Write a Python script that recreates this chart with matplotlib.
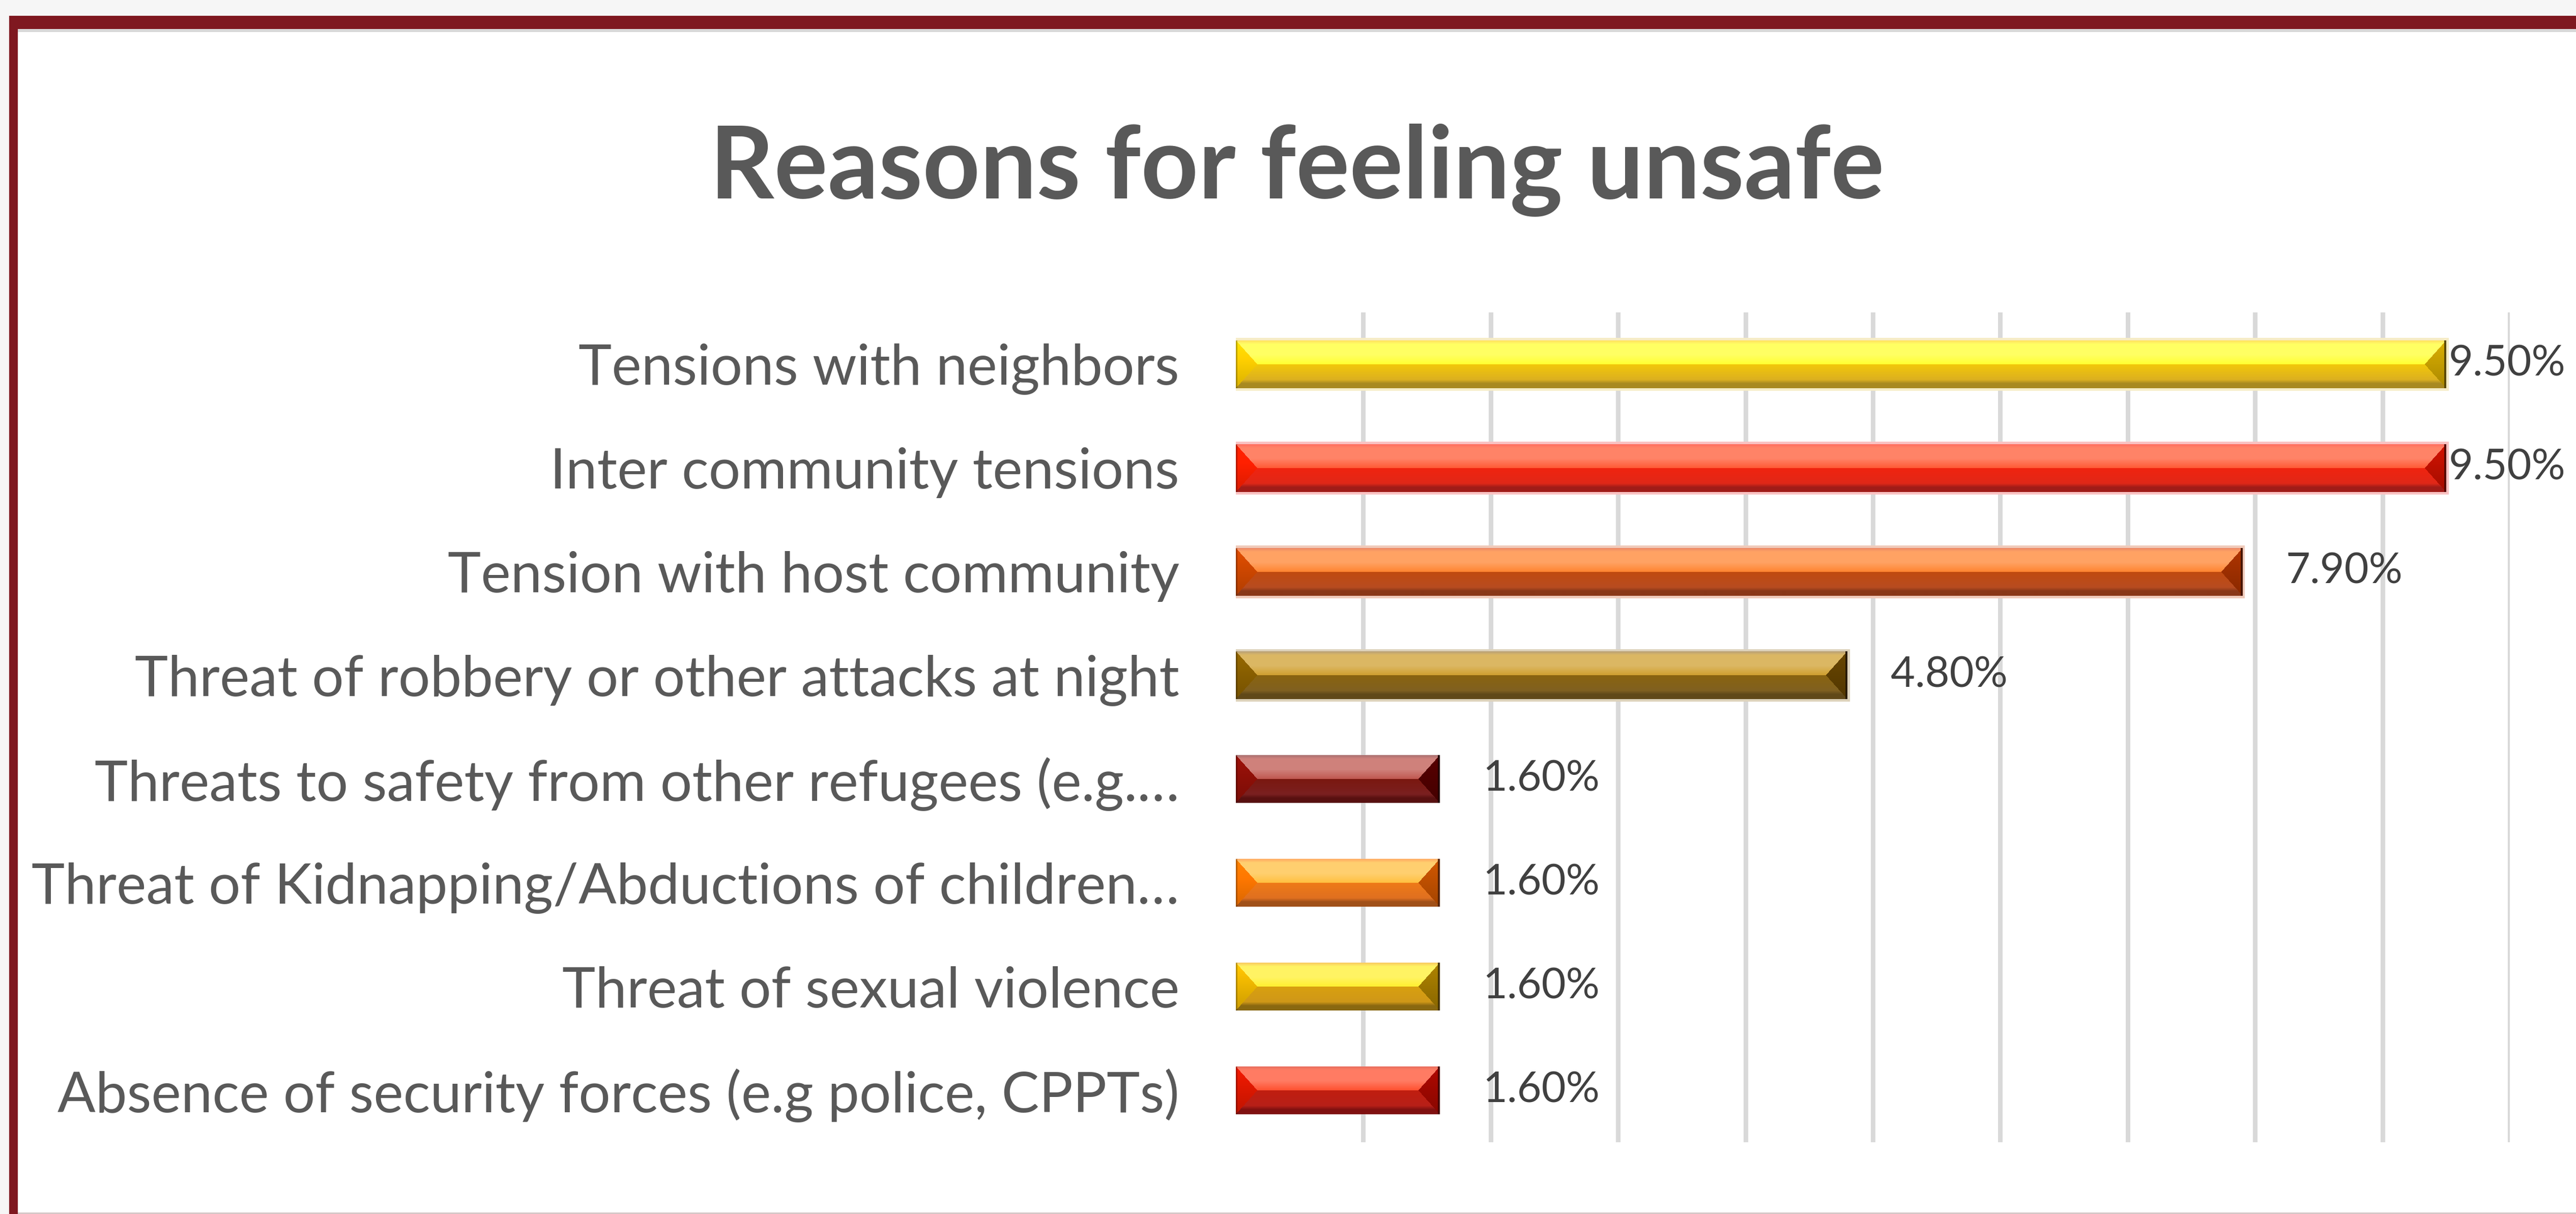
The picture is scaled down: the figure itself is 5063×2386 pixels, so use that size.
import numpy as np
import matplotlib
matplotlib.use("Agg")
import matplotlib.pyplot as plt
from matplotlib.patches import Rectangle
from matplotlib.colors import to_rgb

# ---------------- data ----------------
title = "Reasons for feeling unsafe"
categories = [
    "Tensions with neighbors",
    "Inter community tensions",
    "Tension with host community",
    "Threat of robbery or other attacks at night",
    "Threats to safety from other refugees (e.g.\u2026",
    "Threat of Kidnapping/Abductions of children\u2026",
    "Threat of sexual violence",
    "Absence of security forces (e.g police, CPPTs)",
]
values = [9.5, 9.5, 7.9, 4.8, 1.6, 1.6, 1.6, 1.6]
x_gridlines = [1, 2, 3, 4, 5, 6, 7, 8, 9, 10]

# ---------------- style ----------------
# top_a, top_b, bot_a, bot_b, edge, left_tri, right_tri, halo
bar_styles = [
    ("#ffe060", "#ffff30", "#f2c80a", "#dcb020", "#a88a20", "#ffd000", "#c8a000", "#f6ecc6"),
    ("#ff6e60", "#ff5a35", "#f02410", "#e02818", "#a01c18", "#ff2000", "#c01000", "#f9c2c2"),
    ("#ec8868", "#ff8430", "#c04a10", "#b84c20", "#8a3818", "#d04800", "#a03000", "#f0cbbb"),
    ("#b8a078", "#d0a030", "#8a6410", "#806020", "#604818", "#8a6000", "#604000", "#ddd2bb"),
    ("#a87070", "#c05850", "#7a1810", "#7a2020", "#581010", "#901008", "#500000", None),
    ("#ffa860", "#ffc040", "#ee7a18", "#e07020", "#a05018", "#ff7800", "#c05000", None),
    ("#f8c860", "#fff030", "#d8a010", "#d09818", "#8a6810", "#f0b800", "#a07800", None),
    ("#e87060", "#ff5030", "#c01e10", "#b82018", "#801010", "#e01800", "#a00800", None),
]
TEXT_GRAY = "#595959"
LABEL_GRAY = "#404040"

W_PX, H_PX, DPI = 5063, 2386, 100
fig = plt.figure(figsize=(W_PX / DPI, H_PX / DPI), dpi=DPI)
fig.patch.set_facecolor("#f6f6f6")


def fbox(x0, y0, x1, y1, color, z=0):
    """rectangle given in pixel coords measured from top-left"""
    fig.add_artist(Rectangle((x0 / W_PX, 1 - y1 / H_PX), (x1 - x0) / W_PX, (y1 - y0) / H_PX,
                             transform=fig.transFigure, facecolor=color, edgecolor="none", zorder=z))


# frame
fbox(18, 31, W_PX, H_PX, "#7f1820", 0)
fbox(35, 57, W_PX, H_PX, "#ffffff", 1)
fbox(35, 57, W_PX, 63, "#d8d8d8", 2)
fbox(35, H_PX - 3, W_PX, H_PX, "#d6c8c8", 2)

renderer = fig.canvas.get_renderer()


def fit_size(text, target_px, weight="normal"):
    t = fig.text(0, 0, text, fontsize=100, family="Lato", weight=weight)
    w = t.get_window_extent(renderer).width
    t.remove()
    return 100 * target_px / w


# title
ts = fit_size(title, 2309, "bold")
fig.text(2549 / W_PX, 1 - 390 / H_PX, title, ha="center", va="baseline",
         fontsize=ts, family="Lato", weight="bold", color=TEXT_GRAY, zorder=5)

# axes
ax_left, ax_right, ax_top, ax_bot = 2429, 4933, 614, 2245
ax = fig.add_axes([ax_left / W_PX, 1 - ax_bot / H_PX, (ax_right - ax_left) / W_PX, (ax_bot - ax_top) / H_PX])
ax.set_zorder(3)
ax.patch.set_alpha(0)
for s in ax.spines.values():
    s.set_visible(False)

y = np.arange(len(categories))
ax.set_xlim(0, 10)
ax.set_ylim(len(categories) - 0.5, -0.5)

ax.set_xticks(x_gridlines)
ax.tick_params(axis="x", length=0, labelbottom=False)
ax.grid(axis="x", color="#d9d9d9", linewidth=9 * 72 / DPI, zorder=0)
ax.set_axisbelow(True)

ls = fit_size(max(categories, key=len), 2205)
ax.set_yticks(y)
ax.set_yticklabels(categories, fontsize=ls, family="Lato", color=TEXT_GRAY)
ax.tick_params(axis="y", length=0, pad=(ax_left - 2318) * 72 / DPI)

halo_lw = [10 * 72 / DPI if st[7] else 0 for st in bar_styles]
bars = ax.barh(y, values, height=0.46, color=[st[3] for st in bar_styles],
               edgecolor=[st[7] if st[7] else "none" for st in bar_styles],
               linewidth=halo_lw, zorder=2)


def lerp(a, b, t):
    return a + (b - a) * t


def bevel(Wp, Hp, st):
    top_a, top_b, bot_a, bot_b, edge, ltri, rtri = [np.array(to_rgb(c)) for c in st[:7]]
    light = lerp(top_b, np.ones(3), 0.25)
    t = (np.arange(Hp) + 0.5) / Hp
    col = np.zeros((Hp, 3))
    for i, tt in enumerate(t):
        if tt < 0.08:
            col[i] = lerp(top_a, light, tt / 0.08)
        elif tt < 0.3:
            col[i] = light
        elif tt < 0.5:
            col[i] = lerp(light, top_b, (tt - 0.3) / 0.2)
        elif tt < 0.82:
            col[i] = lerp(bot_a, bot_b, (tt - 0.5) / 0.32)
        elif tt < 0.9:
            col[i] = lerp(bot_b, edge, (tt - 0.82) / 0.08)
        else:
            col[i] = edge
    img = np.repeat(col[:, None, :], Wp, axis=1)
    b = 0.45 * Hp
    reach = b * (1 - np.abs(t - 0.5) / 0.5)
    xx = np.arange(Wp) + 0.5
    shade = np.clip(1.1 - 0.25 * t, 0, 1.2)[:, None]
    lmask = xx[None, :] < reach[:, None]
    rmask = (Wp - xx)[None, :] < reach[:, None]
    limg = np.clip(ltri[None, None, :] * shade[:, :, None], 0, 1)
    rimg = np.clip(rtri[None, None, :] * shade[:, :, None], 0, 1)
    limg = np.repeat(limg, Wp, axis=1)
    rimg = np.repeat(rimg, Wp, axis=1)
    img[lmask] = limg[lmask]
    img[rmask] = rimg[rmask]
    img[:, :3] = img[:, :3] * 0.75
    img[:, -4:] = rtri * 0.45
    return img


for bar, st in zip(bars, bar_styles):
    x0, y0 = bar.get_x(), bar.get_y()
    x1, y1 = x0 + bar.get_width(), y0 + bar.get_height()
    p0 = ax.transData.transform((x0, y0))
    p1 = ax.transData.transform((x1, y1))
    Wp = max(int(round(abs(p1[0] - p0[0]))), 2)
    Hp = max(int(round(abs(p1[1] - p0[1]))), 2)
    ax.imshow(bevel(Wp, Hp, st), extent=(x0, x1, y1, y0), origin="upper",
              aspect="auto", interpolation="bilinear", zorder=3)

ax.set_xlim(0, 10)
ax.set_ylim(len(categories) - 0.5, -0.5)

# data labels
ds = fit_size("7.90%", 230)
for bar, v in zip(bars, values):
    txt = f"{v:.2f}%"
    tmp = fig.text(0, 0, txt, fontsize=ds, family="Lato")
    tw = tmp.get_window_extent(renderer).width
    tmp.remove()
    end_px = ax.transData.transform((v, 0))[0]
    gap = 85 if end_px + 85 + tw < W_PX - 10 else 5
    ax.annotate(txt, xy=(v, bar.get_y() + bar.get_height() / 2), xytext=(gap * 72 / DPI, 0),
                textcoords="offset points", ha="left", va="center", fontsize=ds,
                family="Lato", color=LABEL_GRAY, zorder=6, annotation_clip=False)

fig.savefig("out.png", dpi=DPI, facecolor=fig.get_facecolor())
